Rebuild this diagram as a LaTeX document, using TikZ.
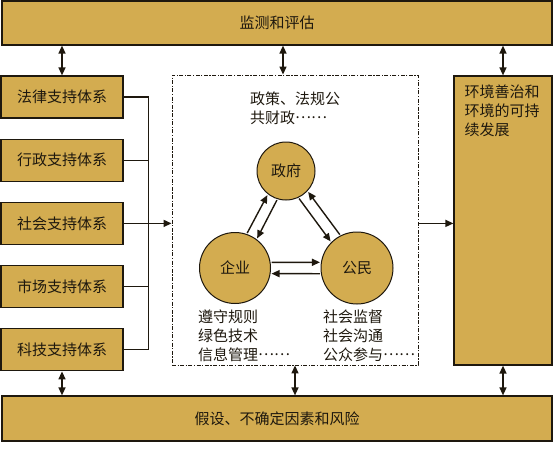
\documentclass[tikz,border=0pt]{standalone}
\usepackage{fontspec}
\setmainfont{Noto Sans CJK SC}
\usepackage{xcolor}
\usetikzlibrary{arrows.meta,positioning,calc}
\definecolor{gold}{RGB}{211,172,80}
\definecolor{ink}{RGB}{30,24,14}
\newcommand\midellip{\raisebox{0.33em}{……}}

\begin{document}
\begin{tikzpicture}[
    x=1pt, y=-1pt,
    font=\fontsize{15}{19}\selectfont, text=ink,
    bar/.style={rectangle, draw=ink, line width=1.2pt, fill=gold, minimum width=550pt, minimum height=44pt, inner sep=0pt},
    side/.style={rectangle, draw=ink, line width=1.2pt, fill=gold, minimum width=122pt, minimum height=42pt, inner sep=0pt},
    actor/.style={circle, draw=ink, line width=1pt, fill=gold, inner sep=0pt},
    frame/.style={rectangle, draw=ink, line width=0.9pt, dash pattern=on 4pt off 1.5pt on 1.2pt off 1.5pt, minimum width=246pt, minimum height=290pt},
    note/.style={align=left, inner sep=0pt, anchor=north west},
    wire/.style={line width=1.3pt, draw=ink},
    arrow/.style={-{Triangle[length=8pt,width=7pt]}, line width=1.4pt, draw=ink},
    twoway/.style={{Triangle[length=8pt,width=7pt]}-{Triangle[length=8pt,width=7pt]}, line width=1.4pt, draw=ink}
]
\useasboundingbox (0,0) rectangle (554,450);

% Bars
\node[bar] (monitor) at (277,23) {监测和评估};
\node[bar, minimum height=45pt] (risk) at (277,418.5) {假设、不确定因素和风险};

% Support systems
\node[side] (law) at (62,97) {法律支持体系};
\node[side, below=20pt of law] (admin) {行政支持体系};
\node[side, below=20pt of admin] (social) {社会支持体系};
\node[side, below=20pt of social] (market) {市场支持体系};
\node[side, below=20pt of market] (tech) {科技支持体系};

% Core frame
\node[frame] (core) at (295,220) {};
\node[note] (govnote) at (250,92) {政策、法规公\\共财政\midellip};
\node[actor, minimum size=58pt] (gov) at (286,171) {政府};
\node[actor, minimum size=71pt] (firm) at (235,268) {企业};
\node[actor, minimum size=72pt] (citizen) at (357,268) {公民};
\node[note] (firmnote) at (198,310) {遵守规则\\绿色技术\\信息管理\midellip};
\node[note] (citnote) at (323,310) {社会监督\\社会沟通\\公众参与\midellip};

% Goal
\node[side, minimum width=98pt, minimum height=289pt] (goal) at (503,220.5) {};
\node[note] (goaltext) at ([shift={(11pt,-9pt)}]goal.north west) {环境善治和\\环境的可持\\续发展};

% Bus on the left
\coordinate (bustop) at ([xshift=25pt]law.east);
\coordinate (busbot) at ([xshift=25pt]tech.east);
\draw[wire] (law.east) -- (bustop) -- (busbot) -- (tech.east);
\draw[wire] (admin.east) -- (admin.east -| bustop);
\draw[wire] (market.east) -- (market.east -| bustop);

% Arrows
\draw[arrow] (social.east) -- (social.east -| core.west);
\draw[arrow] (core.east |- social.east) -- (goal.west |- social.east);
\draw[twoway] (law.north) -- (law.north |- monitor.south);
\draw[twoway] ([xshift=-12pt]core.north) -- ([xshift=-12pt]core.north |- monitor.south);
\draw[twoway] (goal.north) -- (goal.north |- monitor.south);
\draw[twoway] (tech.south) -- (tech.south |- risk.north);
\draw[twoway] (core.south) -- (core.south |- risk.north);
\draw[twoway] (goal.south) -- (goal.south |- risk.north);

% Triangle
\draw[arrow, shorten <=1pt, shorten >=1pt] (firm.71) -- (gov.232);
\draw[arrow, shorten <=1pt, shorten >=1pt] (gov.253) -- (firm.53);
\draw[arrow, shorten <=1pt, shorten >=1pt] (citizen.117) -- (gov.317);
\draw[arrow, shorten <=1pt, shorten >=1pt] (gov.295) -- (citizen.135);
\draw[arrow, shorten <=1pt, shorten >=1pt] (firm.9) -- (citizen.171);
\draw[arrow, shorten <=1pt, shorten >=1pt] (citizen.189) -- (firm.351);
\end{tikzpicture}
\end{document}
